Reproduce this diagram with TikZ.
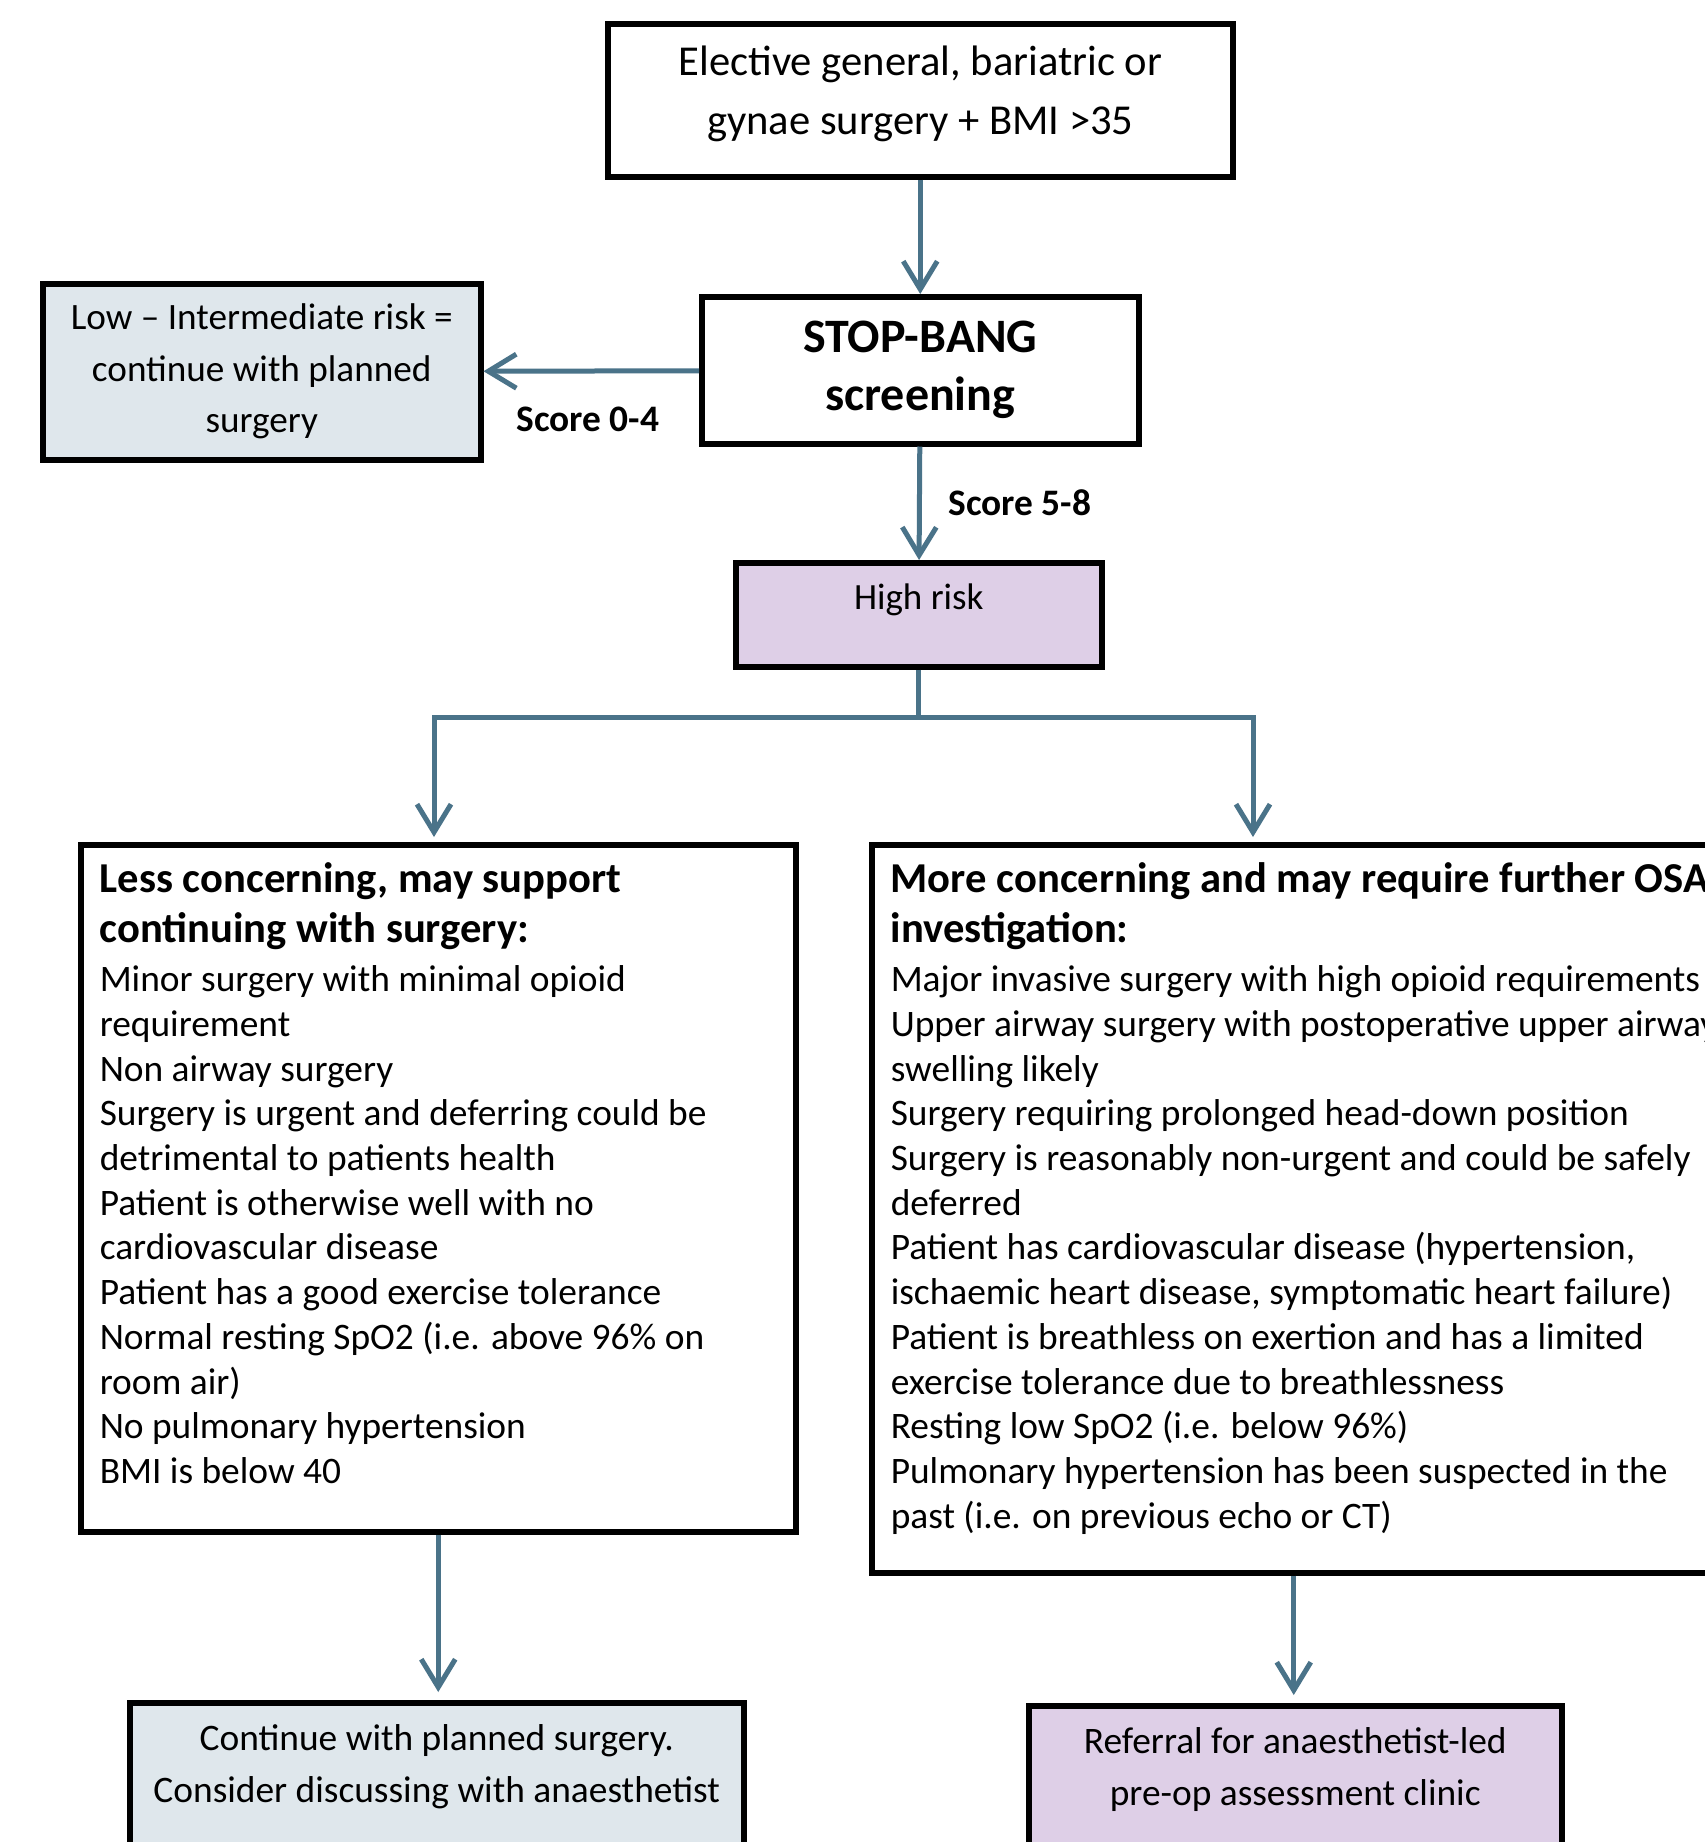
\documentclass[tikz,border=0pt]{standalone}
\usepackage{fontspec}
\setmainfont{Carlito}
\usetikzlibrary{arrows.meta}
\definecolor{arrowc}{HTML}{4A7389}
\definecolor{lowfill}{HTML}{DFE7EC}
\definecolor{highfill}{HTML}{DECFE7}
\tikzset{
  box/.style={draw=black, line width=5.5pt, inner sep=0pt, anchor=north west},
  arr/.style={draw=arrowc, line width=5pt, line join=miter, -{Straight Barb[length=28pt,width=34pt,line width=5pt]}},
  conn/.style={draw=arrowc, line width=5pt},
  lbl/.style={font=\fontsize{37.4}{44}\selectfont\bfseries}
}
\newcommand\bxt[3]{\parbox[c][#2][t]{#1}{#3}}
\newcommand\rline[1]{\mbox{#1}\\}
\newcommand\hdfont{\fontsize{42.6}{49.4}\selectfont\bfseries}
\newcommand\bdfont{\fontsize{37.4}{44.7}\selectfont}
\begin{document}
\begin{tikzpicture}[x=1pt,y=-1pt]
\useasboundingbox (0,0) rectangle (1705,1842);
\fill[white] (0,0) rectangle (1705,1842);
\clip (0,0) rectangle (1705,1842);

\node[box, minimum width=625pt, minimum height=153pt, align=center, text depth=20pt,
  font=\fontsize{42.6}{59}\selectfont] (top) at (605,21)
  {Elective general, bariatric or\\gynae surgery + BMI >35};

\node[box, minimum width=437pt, minimum height=147pt, align=center,
  font=\fontsize{48}{58}\selectfont\bfseries] (stop) at (699,294)
  {STOP-BANG\\screening};

\node[box, fill=lowfill, minimum width=438pt, minimum height=176pt, align=center,
  font=\fontsize{37.2}{51.5}\selectfont] (low) at (40,281)
  {Low -- Intermediate risk =\\continue with planned\\surgery};

\node[lbl] (s04) at (588,419) {Score 0-4};
\node[lbl] (s58) at (1020,503) {Score 5-8};

\node[box, fill=highfill, minimum width=366pt, minimum height=104pt] (high) at (733,560)
  {\bxt{366pt}{62pt}{\centering\fontsize{37}{44}\selectfont High risk\par}};

\node[box, minimum width=715pt, minimum height=687pt] (lb) at (78,842)
  {\bxt{677pt}{651pt}{\raggedright
   {\hdfont Less concerning, may support\\continuing with surgery:\par}
   \vspace{5pt}
   {\bdfont Minor surgery with minimal opioid\\
   requirement\\
   Non airway surgery\\
   Surgery is urgent and deferring could be\\
   detrimental to patients health\\
   Patient is otherwise well with no\\
   cardiovascular disease\\
   Patient has a good exercise tolerance\\
   Normal resting SpO2 (i.e. above 96\% on\\
   room air)\\
   No pulmonary hypertension\\
   BMI is below 40\par}}};

\node[box, minimum width=844pt, minimum height=728pt] (rb) at (869,842)
  {\bxt{806pt}{692pt}{\raggedright
   {\hdfont \rline{More concerning and may require further OSA}investigation:\par}
   \vspace{5pt}
   {\bdfont \rline{Major invasive surgery with high opioid requirements}
   \rline{Upper airway surgery with postoperative upper airway}
   \rline{swelling likely}
   \rline{Surgery requiring prolonged head-down position}
   \rline{Surgery is reasonably non-urgent and could be safely}
   \rline{deferred}
   \rline{Patient has cardiovascular disease (hypertension,}
   \rline{ischaemic heart disease, symptomatic heart failure)}
   \rline{Patient is breathless on exertion and has a limited}
   \rline{exercise tolerance due to breathlessness}
   \rline{Resting low SpO2 (i.e. below 96\%)}
   \rline{Pulmonary hypertension has been suspected in the}
   past (i.e. on previous echo or CT)\par}}};

\node[box, fill=lowfill, minimum width=614pt, minimum height=200pt] (bbl) at (127,1700)
  {\bxt{614pt}{156pt}{\centering\fontsize{37.4}{52}\selectfont
   Continue with planned surgery.\\Consider discussing with anaesthetist\par}};

\node[box, fill=highfill, minimum width=533pt, minimum height=200pt] (bbr) at (1026,1703)
  {\bxt{533pt}{156pt}{\centering\fontsize{37.4}{52}\selectfont
   Referral for anaesthetist-led\\pre-op assessment clinic\par}};

\coordinate (split) at (916,717);
\coordinate (bl) at (434,717);
\coordinate (br) at (1253,717);

\draw[arr] (top) -- (stop);
\draw[arr] (stop) -- (low);
\draw[arr] (stop) -- (high);
\draw[conn] (high.south) -- (high.south |- split);
\draw[arr, shorten >=5pt] (split) -- (bl) -- (bl |- lb.north);
\draw[arr, shorten >=5pt] (split) -- (br) -- (br |- rb.north);
\draw[arr, shorten >=8pt] (lb.south) -- (lb.south |- bbl.north);
\draw[arr, shorten >=8pt] (rb.south) -- (rb.south |- bbr.north);
\end{tikzpicture}
\end{document}
